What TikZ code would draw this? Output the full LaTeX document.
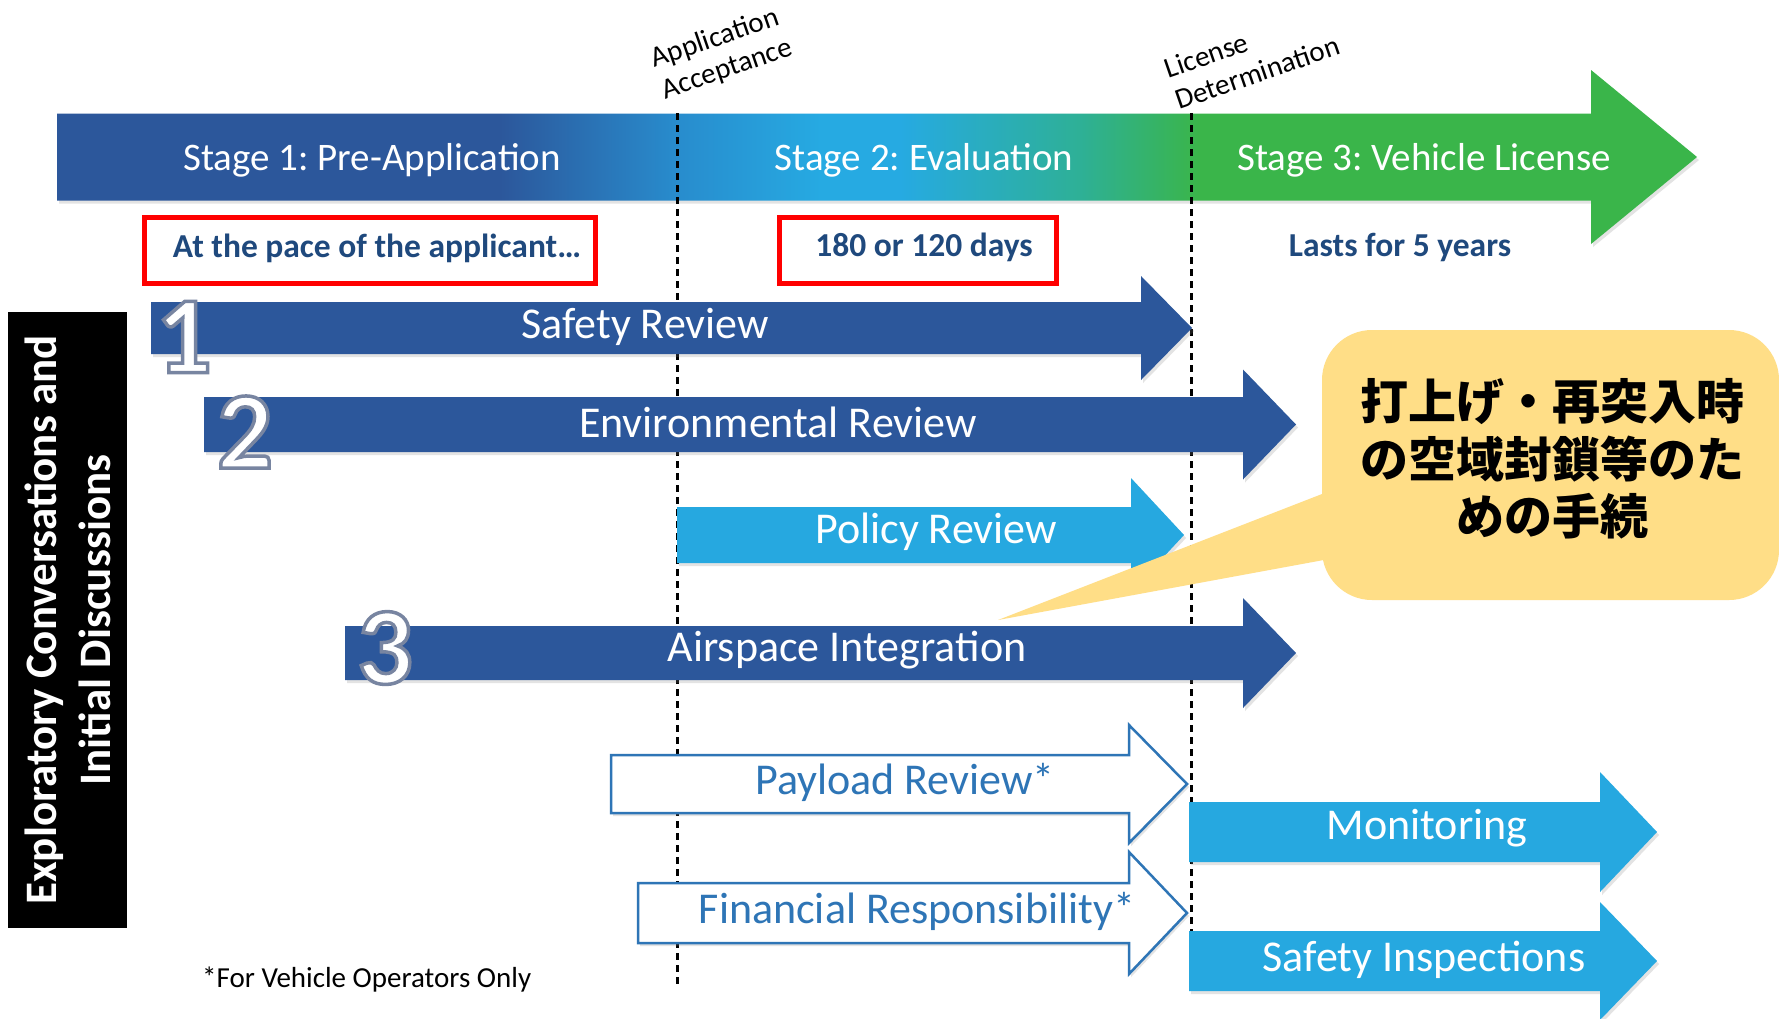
\documentclass[tikz,border=0pt]{standalone}
\usepackage{fontspec}
\setmainfont{Carlito}
\newfontfamily\jpfont{Noto Sans CJK JP}
\usetikzlibrary{
    positioning,
    calc,
    shadows
}
\frenchspacing
\definecolor{StageBlue}{RGB}{44,87,155}
\definecolor{StageMid}{RGB}{40,140,205}
\definecolor{StageSky}{RGB}{38,170,226}
\definecolor{StageTeal}{RGB}{46,176,150}
\definecolor{StageGreen}{RGB}{58,181,74}
\definecolor{ReviewBlue}{RGB}{44,87,155}
\definecolor{ReviewSky}{RGB}{38,168,224}
\definecolor{OutlineBlue}{RGB}{46,117,182}
\definecolor{NoteNavy}{RGB}{31,73,125}
\definecolor{FrameRed}{RGB}{255,0,0}
\definecolor{CalloutYellow}{RGB}{255,222,135}

% colour run of the stage bar: the middle 25bp..75bp covers the bar
\pgfdeclarehorizontalshading{stagebar}{100bp}{
    color(0bp)=(StageBlue); color(38.5bp)=(StageBlue);
    color(43.9bp)=(StageMid); color(48.3bp)=(StageSky);
    color(50.7bp)=(StageSky); color(56.2bp)=(StageTeal);
    color(59.8bp)=(StageGreen); color(100bp)=(StageGreen)}

% block arrow: [style]{x left}{x head}{x tip}{y centre}{half body}{half head}
\newcommand{\flowarrow}[7][]{%
    \path[#1] (#2,#5-#6) -- (#3,#5-#6) -- (#3,#5-#7) -- (#4,#5)
        -- (#3,#5+#7) -- (#3,#5+#6) -- (#2,#5+#6) -- cycle;}

% white step number with a grey rim (fill + stroke text mode)
\newcommand{\rimmed}[1]{%
    \special{pdf:literal direct 2 Tr 3.5 w 0.47 0.52 0.63 RG}#1\special{pdf:literal direct 0 Tr}}

\begin{document}
\begin{tikzpicture}[
    x=1pt, y=-1pt,
    shade/.style={drop shadow={shadow xshift=2pt, shadow yshift=-3pt, opacity=0.22}},
    darkarrow/.style={fill=ReviewBlue, shade},
    skyarrow/.style={fill=ReviewSky, shade},
    openarrow/.style={fill=white, draw=OutlineBlue, line width=2.5pt, shade},
    stagetext/.style={text=white, font=\fontsize{39}{47}\selectfont},
    reviewtext/.style={text=white, font=\fontsize{44}{53}\selectfont, inner sep=0pt},
    opentext/.style={reviewtext, text=OutlineBlue},
    notetext/.style={text=NoteNavy, font=\fontsize{33.5}{40}\selectfont\bfseries, inner sep=0pt},
    redframe/.style={draw=FrameRed, line width=5pt},
    milestone/.style={black, line width=3pt, dash pattern=on 7pt off 5pt},
    milestonetext/.style={font=\fontsize{29}{33}\selectfont, align=left, rotate=19, inner sep=0pt},
    digit/.style={text=white, font=\fontsize{110}{110}\selectfont\bfseries, inner sep=0pt},
    explore/.style={fill=black, text=white, rotate=90, align=center,
        font=\fontsize{45}{54}\selectfont\bfseries},
    callouttext/.style={font=\jpfont\bfseries\fontsize{48}{57.5}\selectfont, align=center}
]
\useasboundingbox (0,0) rectangle (1779,1018);
\fill[white] (0,0) rectangle (1779,1018);

\flowarrow[shading=stagebar, shade]{57}{1591}{1697}{157}{43.5}{87}
\node[stagetext] (stage1) at (372,160) {Stage 1: Pre-Application};
\node[stagetext] (stage2) at (924,160) {Stage 2: Evaluation};
\node[stagetext] (stage3) at (1424,160) {Stage 3: Vehicle License};

\coordinate (accept top) at (677,113);
\coordinate (accept end) at (677,987);
\coordinate (licence top) at (1191,113);
\coordinate (licence end) at (1191,987);
\draw[milestone] (accept top) -- (accept end);
\draw[milestone] (licence top) -- (licence end);

\node[redframe, minimum width=451pt, minimum height=66pt] (paceframe) at (370,250) {};
\node[notetext] (pace) at (377,248) {At the pace of the applicant…};
\node[redframe, minimum width=277pt, minimum height=66pt] (daysframe) at (918,250) {};
\node[notetext] (days) at (924,247) {180 or 120 days};
\node[notetext] (years) at (1400,247) {Lasts for 5 years};

\flowarrow[darkarrow]{151}{1141}{1192}{328}{26}{52}
\flowarrow[darkarrow]{204}{1243}{1296}{424.5}{27.5}{55}
\flowarrow[skyarrow]{677}{1131}{1184}{535}{28}{57}
\flowarrow[darkarrow]{345}{1243}{1296}{653}{27}{55}
\flowarrow[openarrow]{611}{1129}{1187}{784}{29}{59}
\flowarrow[openarrow]{638}{1129}{1187}{913}{30}{61}
\flowarrow[skyarrow]{1189}{1600}{1657}{832}{30}{60}
\flowarrow[skyarrow]{1189}{1600}{1657}{961}{30}{59}

\node[reviewtext] (safety) at (645,327) {Safety Review};
\node[reviewtext] (environment) at (778,422) {Environmental Review};
\node[reviewtext] (policy) at (936,532) {Policy Review};
\node[reviewtext] (airspace) at (847,650) {Airspace Integration};
\node[opentext] (payload) at (905,782) {Payload Review*};
\node[opentext] (financial) at (917,911) {Financial Responsibility*};
\node[reviewtext] (monitoring) at (1427,828) {Monitoring};
\node[reviewtext] (inspections) at (1424,960) {Safety Inspections};

\node[digit] (one) at (184,337) {\rimmed{1}};
\node[digit] (two) at (245,432) {\rimmed{2}};
\node[digit] (three) at (385,648) {\rimmed{3}};

\node[explore, minimum width=616pt, minimum height=119pt] (explore) at (67.5,620)
    {Exploratory Conversations and\\Initial Discussions};

\node[milestonetext] (acceptance) at (722,54) {Application\\Acceptance};
\node[milestonetext] (determination) at (1252,57) {License\\Determination};

\fill[CalloutYellow, rounded corners=50pt] (1322,330) rectangle (1779,600);
\fill[CalloutYellow] (1340,487) -- (998,620) -- (1340,557) -- cycle;
\node[callouttext] (airspacenote) at (1552,459) {打上げ・再突入時\\の空域封鎖等のた\\めの手続};

\node[font=\fontsize{29}{35}\selectfont, anchor=west, inner sep=0pt] (operators) at (202,980)
    {*For Vehicle Operators Only};
\end{tikzpicture}
\end{document}
